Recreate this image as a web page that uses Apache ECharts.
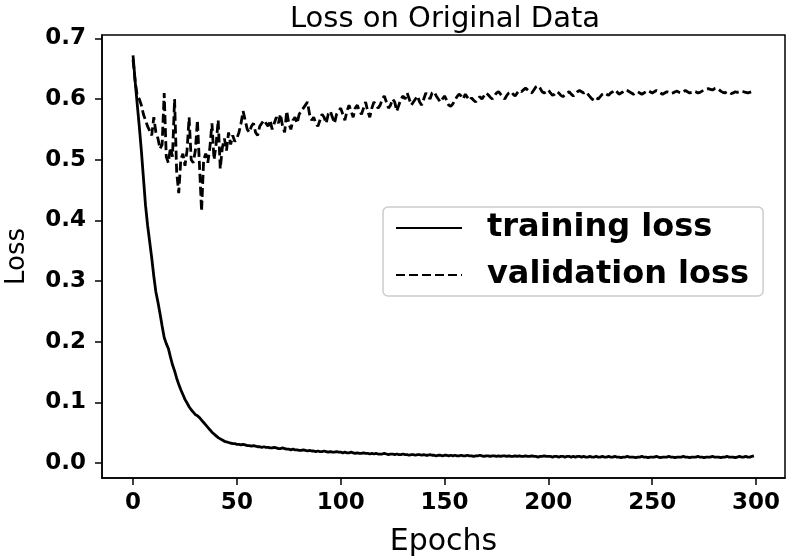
<!DOCTYPE html>
<html>
<head>
<meta charset="utf-8">
<title>Loss on Original Data</title>
<script src="https://cdn.jsdelivr.net/npm/echarts@6.0.0/dist/echarts.min.js"></script>
<style>
  html, body { margin: 0; padding: 0; background: #fff; }
  #chart { width: 788px; height: 559px; }
</style>
</head>
<body>
<div id="chart"></div>
<script>
// tick positions
const xTicks = [0, 50, 100, 150, 200, 250, 300];
const yTicks = [0, 0.1, 0.2, 0.3, 0.4, 0.5, 0.6, 0.7];

// loss per epoch (0..299)
const trainingLoss = [
  0.672, 0.630, 0.592, 0.555, 0.515, 0.470, 0.425, 0.392, 0.365, 0.338,
  0.308, 0.282, 0.265, 0.246, 0.226, 0.207, 0.197, 0.189, 0.175, 0.162,
  0.152, 0.140, 0.130, 0.121, 0.113, 0.105, 0.099, 0.093, 0.088, 0.084,
  0.080, 0.078, 0.075, 0.071, 0.067, 0.063, 0.059, 0.055, 0.051, 0.048,
  0.045, 0.042, 0.040, 0.038, 0.036, 0.035, 0.034, 0.033, 0.032, 0.032,
  0.031, 0.031, 0.030, 0.031, 0.030, 0.029, 0.029, 0.028, 0.029, 0.028,
  0.027, 0.027, 0.026, 0.027, 0.026, 0.026, 0.025, 0.025, 0.026, 0.025,
  0.024, 0.024, 0.025, 0.024, 0.023, 0.023, 0.022, 0.023, 0.022, 0.022,
  0.021, 0.021, 0.022, 0.021, 0.020, 0.021, 0.020, 0.020, 0.019, 0.020,
  0.019, 0.019, 0.020, 0.019, 0.018, 0.019, 0.018, 0.018, 0.019, 0.018,
  0.018, 0.017, 0.018, 0.017, 0.017, 0.018, 0.017, 0.016, 0.017, 0.016,
  0.016, 0.017, 0.016, 0.016, 0.015, 0.016, 0.015, 0.016, 0.015, 0.015,
  0.015, 0.016, 0.015, 0.014, 0.015, 0.015, 0.014, 0.015, 0.014, 0.014,
  0.015, 0.014, 0.014, 0.013, 0.014, 0.014, 0.013, 0.014, 0.014, 0.013,
  0.014, 0.013, 0.013, 0.014, 0.013, 0.013, 0.012, 0.013, 0.013, 0.012,
  0.013, 0.013, 0.012, 0.013, 0.012, 0.013, 0.012, 0.012, 0.013, 0.012,
  0.012, 0.013, 0.012, 0.012, 0.011, 0.012, 0.012, 0.013, 0.012, 0.011,
  0.012, 0.012, 0.011, 0.012, 0.012, 0.011, 0.012, 0.011, 0.012, 0.012,
  0.011, 0.012, 0.011, 0.011, 0.012, 0.011, 0.012, 0.011, 0.011, 0.012,
  0.011, 0.011, 0.012, 0.011, 0.011, 0.010, 0.011, 0.011, 0.012, 0.011,
  0.011, 0.011, 0.010, 0.011, 0.011, 0.010, 0.011, 0.011, 0.010, 0.011,
  0.011, 0.010, 0.011, 0.010, 0.011, 0.011, 0.010, 0.011, 0.010, 0.010,
  0.011, 0.010, 0.010, 0.011, 0.010, 0.010, 0.011, 0.010, 0.010, 0.011,
  0.010, 0.010, 0.011, 0.010, 0.010, 0.009, 0.010, 0.010, 0.011, 0.010,
  0.010, 0.010, 0.009, 0.010, 0.010, 0.011, 0.010, 0.010, 0.009, 0.010,
  0.010, 0.010, 0.011, 0.010, 0.009, 0.010, 0.010, 0.010, 0.011, 0.010,
  0.010, 0.009, 0.010, 0.010, 0.010, 0.011, 0.010, 0.010, 0.009, 0.010,
  0.010, 0.010, 0.011, 0.010, 0.010, 0.009, 0.010, 0.010, 0.010, 0.011,
  0.010, 0.010, 0.010, 0.009, 0.010, 0.010, 0.011, 0.010, 0.010, 0.010,
  0.009, 0.010, 0.011, 0.010, 0.010, 0.011, 0.010, 0.010, 0.011, 0.012
];

const validationLoss = [
  0.665, 0.630, 0.605, 0.600, 0.590, 0.575, 0.565, 0.555, 0.548, 0.540,
  0.570, 0.545, 0.535, 0.518, 0.525, 0.610, 0.505, 0.495, 0.520, 0.505,
  0.600, 0.480, 0.445, 0.500, 0.510, 0.490, 0.515, 0.570, 0.500, 0.495,
  0.515, 0.565, 0.490, 0.415, 0.500, 0.510, 0.495, 0.520, 0.560, 0.500,
  0.525, 0.565, 0.485, 0.520, 0.535, 0.515, 0.545, 0.525, 0.540, 0.530,
  0.535, 0.545, 0.560, 0.580, 0.565, 0.550, 0.545, 0.555, 0.560, 0.545,
  0.540, 0.555, 0.560, 0.565, 0.560, 0.555, 0.565, 0.550, 0.560, 0.570,
  0.560, 0.575, 0.555, 0.545, 0.580, 0.560, 0.550, 0.565, 0.570, 0.560,
  0.575, 0.580, 0.585, 0.590, 0.595, 0.575, 0.565, 0.570, 0.560, 0.555,
  0.565, 0.575, 0.570, 0.560, 0.575, 0.580, 0.570, 0.560, 0.575, 0.580,
  0.585, 0.575, 0.565, 0.580, 0.590, 0.580, 0.570, 0.585, 0.590, 0.580,
  0.575, 0.585, 0.595, 0.580, 0.570, 0.585, 0.595, 0.590, 0.585, 0.590,
  0.600, 0.605, 0.595, 0.585, 0.590, 0.600, 0.595, 0.580, 0.590, 0.600,
  0.605, 0.600, 0.610, 0.600, 0.590, 0.595, 0.600, 0.605, 0.595, 0.590,
  0.600, 0.610, 0.605, 0.600, 0.610, 0.612, 0.605, 0.600, 0.595, 0.600,
  0.605, 0.598, 0.590, 0.588, 0.592, 0.598, 0.604, 0.608, 0.605, 0.600,
  0.608, 0.603, 0.598, 0.602, 0.598, 0.595, 0.600, 0.604, 0.600, 0.605,
  0.610, 0.607, 0.603, 0.600, 0.605, 0.610, 0.612, 0.608, 0.603, 0.600,
  0.606, 0.610, 0.612, 0.608, 0.605, 0.610, 0.614, 0.612, 0.615, 0.618,
  0.615, 0.612, 0.610, 0.615, 0.620, 0.622, 0.618, 0.612, 0.610, 0.612,
  0.615, 0.610, 0.606, 0.608, 0.612, 0.610, 0.606, 0.604, 0.607, 0.610,
  0.612, 0.608, 0.605, 0.608, 0.612, 0.614, 0.612, 0.610, 0.612, 0.608,
  0.604, 0.600, 0.598, 0.602, 0.600, 0.604, 0.608, 0.610, 0.608, 0.606,
  0.610, 0.612, 0.615, 0.612, 0.608, 0.610, 0.612, 0.615, 0.614, 0.612,
  0.610, 0.608, 0.610, 0.612, 0.610, 0.608, 0.610, 0.612, 0.614, 0.612,
  0.610, 0.612, 0.614, 0.612, 0.610, 0.608, 0.610, 0.612, 0.611, 0.609,
  0.610, 0.612, 0.613, 0.611, 0.610, 0.612, 0.614, 0.612, 0.610, 0.611,
  0.613, 0.612, 0.610, 0.611, 0.613, 0.615, 0.616, 0.617, 0.616, 0.615,
  0.617, 0.618, 0.616, 0.613, 0.611, 0.610, 0.612, 0.611, 0.609, 0.610,
  0.612, 0.611, 0.612, 0.613, 0.612, 0.611, 0.610, 0.611, 0.612, 0.611
];

const chart = echarts.init(document.getElementById('chart'));

const toPairs = arr => arr.map((v, i) => [i, v]);
const FONT = 'DejaVu Sans';
const INK = '#000';

const option = {
  animation: false,
  backgroundColor: '#fff',
  title: {
    text: 'Loss on Original Data',
    left: 440,
    textAlign: 'center',
    top: 0,
    textStyle: { fontFamily: FONT, fontSize: 29, fontWeight: 'normal', color: INK }
  },
  legend: {
    orient: 'vertical',
    left: 383,
    top: 207,
    padding: [5, 14, 5, 12],
    itemWidth: 66,
    itemHeight: 14,
    itemGap: 15,
    borderColor: '#cccccc',
    borderWidth: 1.5,
    borderRadius: 5,
    backgroundColor: '#fff',
    // hide the marker dot, keep only the line sample
    itemStyle: { opacity: 0 },
    textStyle: {
      fontFamily: FONT, fontSize: 32, fontWeight: 'bold', color: INK,
      padding: [0, 0, 0, 20]
    },
    data: ['training loss', 'validation loss']
  },
  grid: {
    left: 102,
    right: 3,
    top: 35,
    bottom: 81,
    outerBoundsMode: 'none',
    show: true,
    borderColor: INK,
    borderWidth: 1.5,
    backgroundColor: 'transparent'
  },
  xAxis: {
    type: 'value',
    min: -14.95,
    max: 313.95,
    name: 'Epochs',
    nameLocation: 'middle',
    nameGap: 49,
    nameTextStyle: { fontFamily: FONT, fontSize: 30, color: INK },
    axisLine: { show: true, onZero: false, lineStyle: { color: INK, width: 1.5 } },
    axisTick: { show: true, customValues: xTicks, length: 7, lineStyle: { color: INK, width: 1.5 } },
    axisLabel: {
      customValues: xTicks,
      margin: 14,
      fontFamily: FONT, fontSize: 23, fontWeight: 'bold', color: INK
    },
    splitLine: { show: false }
  },
  yAxis: {
    type: 'value',
    min: -0.0245,
    max: 0.7055,
    name: 'Loss',
    nameLocation: 'middle',
    nameGap: 72,
    nameTextStyle: { fontFamily: FONT, fontSize: 26, color: INK },
    axisLine: { show: true, onZero: false, lineStyle: { color: INK, width: 1.5 } },
    axisTick: { show: true, customValues: yTicks, length: 7, lineStyle: { color: INK, width: 1.5 } },
    axisLabel: {
      customValues: yTicks,
      margin: 16,
      formatter: v => v.toFixed(1),
      fontFamily: FONT, fontSize: 23, fontWeight: 'bold', color: INK
    },
    splitLine: { show: false }
  },
  series: [
    {
      name: 'training loss',
      type: 'line',
      data: toPairs(trainingLoss),
      showSymbol: false,
      symbol: 'none',
      lineStyle: { color: INK, width: 2.8 },
      itemStyle: { color: INK }
    },
    {
      name: 'validation loss',
      type: 'line',
      data: toPairs(validationLoss),
      showSymbol: false,
      symbol: 'none',
      lineStyle: { color: INK, width: 2.8, type: [9, 4] },
      itemStyle: { color: INK }
    }
  ]
};

chart.setOption(option);
</script>
</body>
</html>
